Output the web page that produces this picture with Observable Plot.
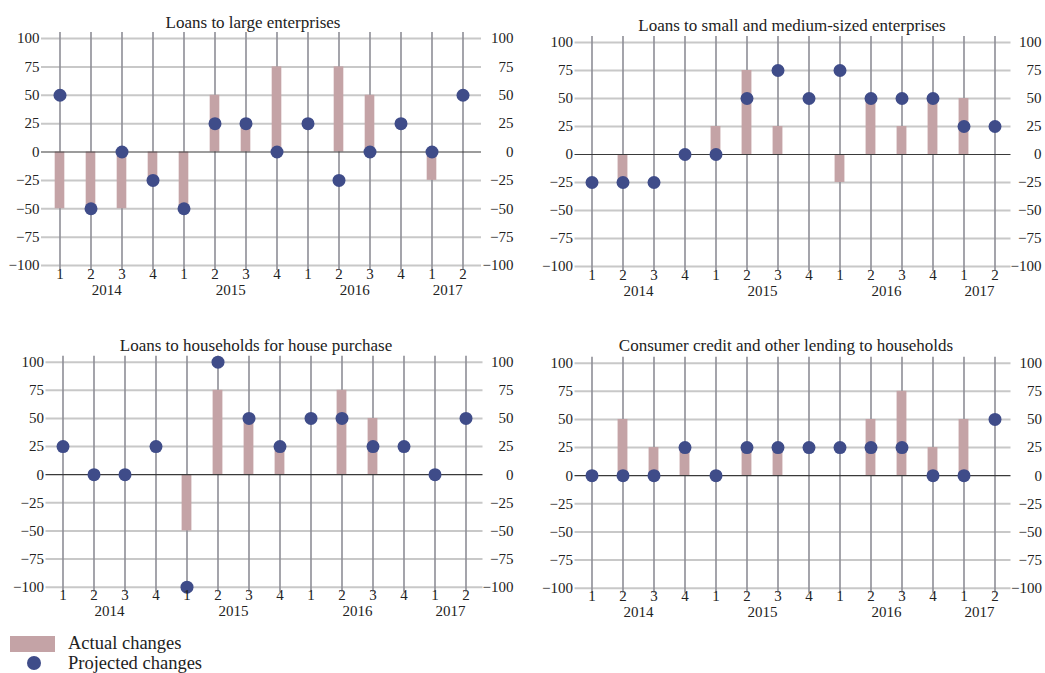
<!DOCTYPE html>
<html>
<head>
<meta charset="utf-8">
<script src="https://cdn.jsdelivr.net/npm/d3@7"></script>
<script src="https://cdn.jsdelivr.net/npm/@observablehq/plot@0.6"></script>
<style>
  html, body { margin: 0; padding: 0; background: #fff; }
  #root { position: relative; width: 1045px; height: 673px; background: #fff; overflow: hidden;
          font-family: "Liberation Serif", "Times New Roman", serif; color: #222; }
  .panel { position: absolute; }
  .panel text { font-family: "Liberation Serif", "Times New Roman", serif; }
  .title { position: absolute; transform: translate(-50%, -50%); font-size: 17px; white-space: nowrap; color: #222; }
  .legend { position: absolute; font-size: 18.5px; color: #222; white-space: nowrap; }
</style>
</head>
<body>
<div id="root"></div>
<script>
// ---- data ----
const years = ["2014", "2014", "2014", "2014", "2015", "2015", "2015", "2015", "2016", "2016", "2016", "2016", "2017", "2017"];
const quarters = ["1", "2", "3", "4", "1", "2", "3", "4", "1", "2", "3", "4", "1", "2"];
const yearLabels = ["2014", "2015", "2016", "2017"];
const yTicks = [-100, -75, -50, -25, 0, 25, 50, 75, 100];

const titles = [
  "Loans to large enterprises",
  "Loans to small and medium-sized enterprises",
  "Loans to households for house purchase",
  "Consumer credit and other lending to households"
];

const actualLarge     = [-50, -50, -50, -25, -50, 50, 25, 75, 0, 75, 50, 0, -25, null];
const projectedLarge  = [50, -50, 0, -25, -50, 25, 25, 0, 25, -25, 0, 25, 0, 50];

const actualSME       = [0, -25, 0, 0, 25, 75, 25, 0, -25, 50, 25, 50, 50, null];
const projectedSME    = [-25, -25, -25, 0, 0, 50, 75, 50, 75, 50, 50, 50, 25, 25];

const actualHouse     = [0, 0, 0, 0, -50, 75, 50, 25, 0, 75, 50, 0, 0, null];
const projectedHouse  = [25, 0, 0, 25, -100, 100, 50, 25, 50, 50, 25, 25, 0, 50];

const actualConsumer    = [0, 50, 25, 25, 0, 25, 25, 0, 0, 50, 75, 25, 50, null];
const projectedConsumer = [0, 0, 0, 25, 0, 25, 25, 25, 25, 25, 25, 0, 0, 50];

const actualSeries = [actualLarge, actualSME, actualHouse, actualConsumer];
const projectedSeries = [projectedLarge, projectedSME, projectedHouse, projectedConsumer];

// ---- styles ----
const BAR = "#c4a3a6";
const DOT = "#3f4c89";
const VGRID = "#8e8e96";
const HGRID = "#c8c8c8";
const ZERO = "#3a3a3a";
const FONT = "'Liberation Serif', 'Times New Roman', serif";
const TXT = "#222";

// panel layout (SVG boxes)
const layout = [
  {left: 0,   top: 0,   width: 522, height: 305, ml: 41,   mr: 41,   mt: 38,   mb: 40,   rp: 32,   tx: 253, ty: 23},
  {left: 522, top: 0,   width: 523, height: 305, ml: 52.5, mr: 34.5, mt: 42,   mb: 39,   rp: 30.5, tx: 792, ty: 26},
  {left: 0,   top: 320, width: 522, height: 305, ml: 45.5, mr: 39.5, mt: 41.7, mb: 38.3, rp: 30.5, tx: 256, ty: 346},
  {left: 522, top: 320, width: 523, height: 305, ml: 52.5, mr: 34.5, mt: 42.7, mb: 37.3, rp: 31,   tx: 786, ty: 346}
];

const keys = years.map((y, i) => y + "-" + quarters[i]);
const root = document.getElementById("root");

layout.forEach((L, p) => {
  const data = keys.map((k, i) => ({
    key: k, year: years[i], q: quarters[i],
    actual: actualSeries[p][i], projected: projectedSeries[p][i]
  }));
  const step = (L.width - L.ml - L.mr) / keys.length;
  // year label anchored at the middle quarter of each year (shifted half a step)
  const yearData = yearLabels.map(y => {
    const idx = keys.map((k, i) => i).filter(i => years[i] === y);
    const mid = idx[Math.floor((idx.length - 1) / 2)];
    return {year: y, key: keys[mid]};
  });

  const chart = Plot.plot({
    width: L.width,
    height: L.height,
    marginLeft: L.ml,
    marginRight: L.mr,
    marginTop: L.mt,
    marginBottom: L.mb,
    style: {fontFamily: FONT, fontSize: "15px", color: TXT, background: "transparent", overflow: "visible"},
    x: {type: "band", domain: keys, padding: 0, axis: null},
    y: {domain: [-100, 100], axis: null},
    marks: [
      Plot.ruleY(yTicks.filter(d => d !== 0), {stroke: HGRID, strokeWidth: 2}),
      Plot.ruleX(keys, {x: d => d, stroke: VGRID, strokeWidth: 1.6, insetTop: -6, insetBottom: -5}),
      Plot.barY(data.filter(d => d.actual != null && d.actual !== 0), {
        x: "key", y: "actual", fill: BAR, insetLeft: step * 0.34, insetRight: step * 0.34
      }),
      Plot.ruleY([0], {stroke: ZERO, strokeWidth: 1.2}),
      Plot.dot(data, {x: "key", y: "projected", r: 6.5, fill: DOT}),
      // left & right y tick labels
      Plot.axisY({anchor: "left", ticks: yTicks, tickSize: 0, tickPadding: 2, fontSize: 15, fontFamily: FONT, fill: TXT, tickFormat: d3.format("d")}),
      Plot.axisY({anchor: "right", ticks: yTicks, tickSize: 0, tickPadding: L.rp, textAnchor: "end", fontSize: 15, fontFamily: FONT, fill: TXT, tickFormat: d3.format("d")}),
      // quarter labels
      Plot.text(data, {x: "key", text: "q", frameAnchor: "bottom", dy: 13, fontSize: 15, fontFamily: FONT, fill: TXT}),
      // year labels
      Plot.text(yearData, {x: "key", text: "year", frameAnchor: "bottom", dy: 29, dx: step / 2, fontSize: 15, fontFamily: FONT, fill: TXT})
    ]
  });
  chart.classList.add("panel");
  chart.style.left = L.left + "px";
  chart.style.top = L.top + "px";
  root.appendChild(chart);

  const t = document.createElement("div");
  t.className = "title";
  t.style.left = L.tx + "px";
  t.style.top = L.ty + "px";
  t.textContent = titles[p];
  root.appendChild(t);
});

// ---- legend ----
const legendItems = ["Actual changes", "Projected changes"];
const lg1 = document.createElement("div");
lg1.style.cssText = `position:absolute;left:10px;top:636px;width:45px;height:16px;background:${BAR}`;
root.appendChild(lg1);
const lg2 = document.createElement("div");
lg2.style.cssText = `position:absolute;left:27px;top:656px;width:14px;height:14px;border-radius:50%;background:${DOT}`;
root.appendChild(lg2);
legendItems.forEach((txt, i) => {
  const d = document.createElement("div");
  d.className = "legend";
  d.style.left = "68px";
  d.style.top = (i === 0 ? 632 : 652) + "px";
  d.style.lineHeight = "22px";
  d.textContent = txt;
  root.appendChild(d);
});
</script>
</body>
</html>
